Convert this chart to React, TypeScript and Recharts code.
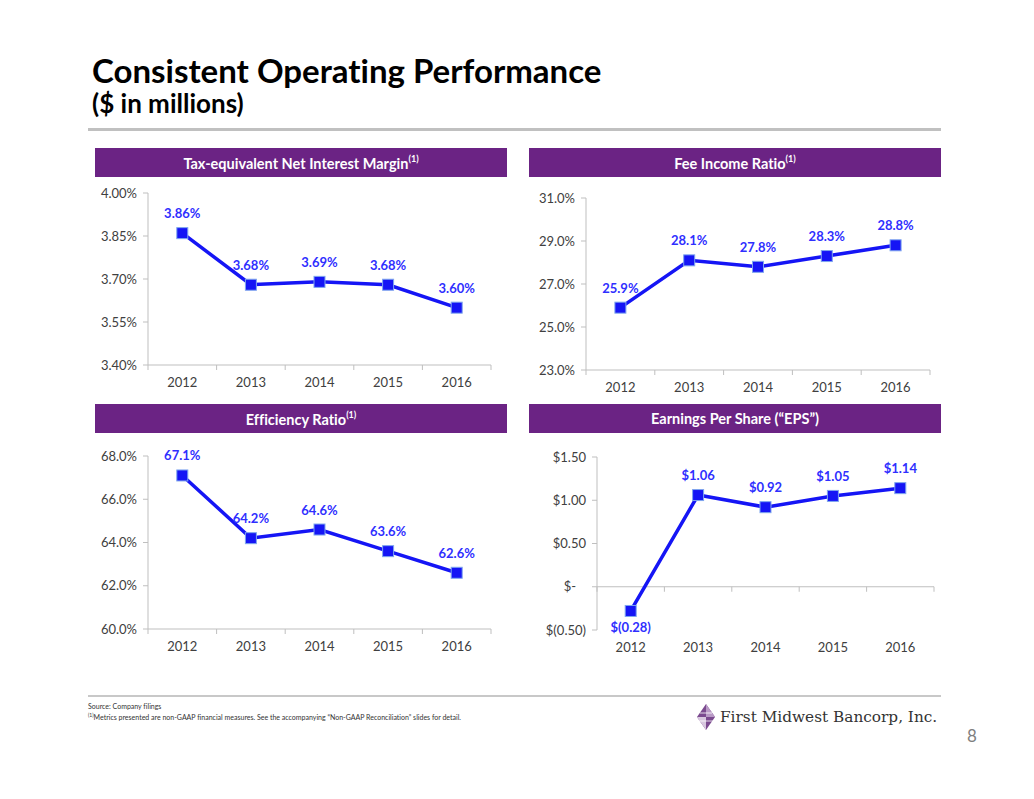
import React from "react";
import { LineChart, Line, XAxis, YAxis, LabelList, ReferenceLine } from "recharts";

const years = ["2012", "2013", "2014", "2015", "2016"];
const nimValues = [3.86, 3.68, 3.69, 3.68, 3.6];
const feeValues = [25.9, 28.1, 27.8, 28.3, 28.8];
const effValues = [67.1, 64.2, 64.6, 63.6, 62.6];
const epsValues = [-0.28, 1.06, 0.92, 1.05, 1.14];

const nimTicks = [3.4, 3.55, 3.7, 3.85, 4.0];
const feeTicks = [23, 25, 27, 29, 31];
const effTicks = [60, 62, 64, 66, 68];
const epsTicks = [-0.5, 0, 0.5, 1.0, 1.5];

const FONT = "Lato, 'Open Sans', sans-serif";
const PURPLE = "#6b2384";
const BLUE = "#1515f5";
const LABEL_BLUE = "#2f2fff";
const AXIS_GRAY = "#bfbfbf";
const TEXT_GRAY = "#404040";

const pct2 = (v: number) => `${v.toFixed(2)}%`;
const pct1 = (v: number) => `${v.toFixed(1)}%`;
const dollars = (v: number) => {
  if (v === 0) return "$-\u00a0\u00a0\u00a0";
  if (v < 0) return `$(${Math.abs(v).toFixed(2)})`;
  return `$${v.toFixed(2)}`;
};

const makeData = (vals: number[]) => years.map((year, i) => ({ year, value: vals[i] }));

const SquareDot = (props: any) => {
  const { cx, cy } = props;
  if (cx == null || cy == null) return null;
  return <rect x={cx - 5.5} y={cy - 5.5} width={11} height={11} fill={BLUE} stroke="#7fa6ee" strokeWidth={1} />;
};

interface MiniProps {
  left: number;
  top: number;
  vals: number[];
  domain: [number, number];
  ticks: number[];
  fmt: (v: number) => string;
  yWidth: number;
  margin: { top: number; right: number; bottom: number };
  zeroLine?: boolean;
}

const Mini = ({ left, top, vals, domain, ticks, fmt, yWidth, margin, zeroLine }: MiniProps) => {
  const width = 420;
  const height = 220;
  const bw = (width - yWidth - margin.right) / years.length;
  const data = makeData(vals);

  const XTick = (p: any) => {
    const { x, y, payload, index } = p;
    return (
      <g>
        {!zeroLine && <line x1={x - bw / 2} x2={x - bw / 2} y1={y} y2={y + 5} stroke={AXIS_GRAY} />}
        {!zeroLine && index === years.length - 1 && (
          <line x1={x + bw / 2} x2={x + bw / 2} y1={y} y2={y + 5} stroke={AXIS_GRAY} />
        )}
        <text x={x} y={y + 22} textAnchor="middle" fill={TEXT_GRAY} fontSize={13} fontFamily={FONT}>
          {payload.value}
        </text>
      </g>
    );
  };

  const ZeroShape = (p: any) => {
    const { x1, x2, y1 } = p;
    if (x1 == null) return null;
    const step = (x2 - x1) / years.length;
    return (
      <g>
        <line x1={x1} x2={x2} y1={y1} y2={y1} stroke={AXIS_GRAY} strokeWidth={1} />
        {Array.from({ length: years.length + 1 }).map((_, i) => (
          <line key={i} x1={x1 + i * step} x2={x1 + i * step} y1={y1} y2={y1 + 5} stroke={AXIS_GRAY} />
        ))}
      </g>
    );
  };

  const PointLabel = (p: any) => {
    const { x, y, value } = p;
    const below = value < 0;
    return (
      <text
        x={x}
        y={below ? y + 21 : y - 15}
        textAnchor="middle"
        fill={LABEL_BLUE}
        fontSize={13}
        fontWeight={700}
        fontFamily={FONT}
      >
        {fmt(value)}
      </text>
    );
  };

  return (
    <div style={{ position: "absolute", left, top }}>
      <LineChart width={width} height={height} data={data} margin={{ left: 0, ...margin }}>
        <XAxis
          dataKey="year"
          axisLine={zeroLine ? false : { stroke: AXIS_GRAY }}
          tickLine={false}
          tickSize={0}
          tickMargin={0}
          tick={XTick}
          interval={0}
          height={30}
          padding={{ left: bw / 2, right: bw / 2 }}
        />
        <YAxis
          domain={domain}
          ticks={ticks}
          type="number"
          allowDataOverflow
          width={yWidth}
          tickFormatter={fmt}
          axisLine={{ stroke: AXIS_GRAY }}
          tickLine={{ stroke: AXIS_GRAY }}
          tickSize={5}
          tickMargin={6}
          tick={{ fill: TEXT_GRAY, fontSize: 13, fontFamily: FONT }}
        />
        {zeroLine && <ReferenceLine y={0} shape={ZeroShape} ifOverflow="extendDomain" />}
        <Line
          dataKey="value"
          stroke={BLUE}
          strokeWidth={3.5}
          dot={<SquareDot />}
          activeDot={false}
          isAnimationActive={false}
        >
          <LabelList dataKey="value" content={PointLabel} />
        </Line>
      </LineChart>
    </div>
  );
};

const Header = ({ left, top, text, note }: { left: number; top: number; text: string; note?: boolean }) => (
  <div
    style={{
      position: "absolute",
      left,
      top,
      width: 412,
      height: 29,
      background: PURPLE,
      color: "#fff",
      fontFamily: FONT,
      fontWeight: 700,
      fontSize: 14.5,
      display: "flex",
      alignItems: "center",
      justifyContent: "center",
    }}
  >
    <span>
      {text}
      {note && <sup style={{ fontSize: 9, position: "relative", top: -1 }}>(1)</sup>}
    </span>
  </div>
);

const Logo = () => (
  <svg width={18} height={26} viewBox="0 0 18 26" style={{ display: "block" }}>
    <polygon points="9,0 18,13 9,26 0,13" fill="#7b4a8f" />
    <polygon points="9,0 18,13 9,13" fill="#b99ac6" />
    <polygon points="0,13 9,13 9,26" fill="#d8c7df" />
    <line x1={3} y1={9} x2={15} y2={9} stroke="#fff" strokeWidth={0.8} />
    <line x1={2} y1={17} x2={16} y2={17} stroke="#fff" strokeWidth={0.8} />
  </svg>
);

export default function App() {
  return (
    <div
      style={{
        position: "absolute",
        left: 0,
        top: 0,
        width: 1034,
        height: 799,
        background: "#fff",
        fontFamily: FONT,
        fontVariantLigatures: "none",
        overflow: "hidden",
      }}
    >
      <div style={{ position: "absolute", left: 92, top: 50, fontSize: 33, fontWeight: 700, color: "#000" }}>
        Consistent Operating Performance
      </div>
      <div style={{ position: "absolute", left: 92, top: 87, fontSize: 26, fontWeight: 700, color: "#000" }}>
        ($ in millions)
      </div>
      <div style={{ position: "absolute", left: 88, top: 128, width: 853, height: 3, background: "#c0c0c0" }} />

      <Header left={95} top={148} text="Tax-equivalent Net Interest Margin" note />
      <Header left={529} top={148} text="Fee Income Ratio" note />
      <Header left={95} top={404} text="Efficiency Ratio" note />
      <Header left={529} top={404} text="Earnings Per Share (“EPS”)" />

      <Mini
        left={90}
        top={180}
        vals={nimValues}
        domain={[3.4, 4.0]}
        ticks={nimTicks}
        fmt={pct2}
        yWidth={58}
        margin={{ top: 13, right: 19, bottom: 5 }}
      />
      <Mini
        left={520}
        top={180}
        vals={feeValues}
        domain={[23, 31]}
        ticks={feeTicks}
        fmt={pct1}
        yWidth={66}
        margin={{ top: 18, right: 10, bottom: 0 }}
      />
      <Mini
        left={90}
        top={440}
        vals={effValues}
        domain={[60, 68]}
        ticks={effTicks}
        fmt={pct1}
        yWidth={58}
        margin={{ top: 16, right: 19, bottom: 1 }}
      />
      <Mini
        left={520}
        top={440}
        vals={epsValues}
        domain={[-0.5, 1.5]}
        ticks={epsTicks}
        fmt={dollars}
        yWidth={77}
        margin={{ top: 17, right: 6, bottom: 0 }}
        zeroLine
      />

      <div style={{ position: "absolute", left: 88, top: 695, width: 853, height: 2, background: "#c8c8c8" }} />
      <div style={{ position: "absolute", left: 88, top: 702, fontSize: 7, color: "#333", lineHeight: "9px" }}>
        Source: Company filings
        <br />
        <sup style={{ fontSize: 5 }}>(1)</sup>Metrics presented are non-GAAP financial measures. See the accompanying
        “Non-GAAP Reconciliation” slides for detail.
      </div>
      <div style={{ position: "absolute", left: 697, top: 704, display: "flex", alignItems: "center", gap: 5 }}>
        <Logo />
        <span style={{ fontFamily: "'DejaVu Serif', serif", fontSize: 15.3, color: "#333" }}>
          First Midwest Bancorp, Inc.
        </span>
      </div>
      <div style={{ position: "absolute", left: 967, top: 725, fontSize: 17, color: "#7f7f7f" }}>8</div>
    </div>
  );
}
